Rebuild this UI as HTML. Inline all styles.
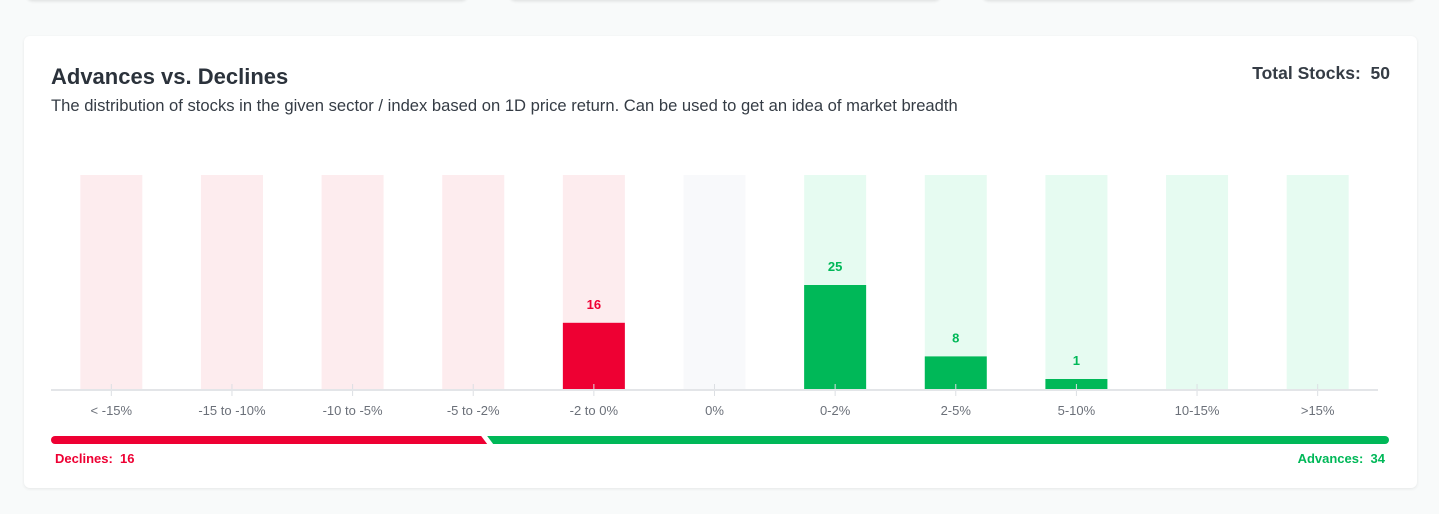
<!DOCTYPE html>
<html><head><meta charset="utf-8"><style>
body{margin:0;width:1439px;height:514px;background:#f8fafa;font-family:"Liberation Sans",sans-serif;overflow:hidden;position:relative}
.top{position:absolute;top:-10px;height:10px;background:#fff;border-radius:6px;box-shadow:0 1px 3px rgba(0,0,0,.12)}
.card{position:absolute;left:24px;top:36px;width:1393px;height:452px;background:#fff;border-radius:6px;box-shadow:0 1px 3px rgba(0,0,0,.08)}
h1{position:absolute;left:27px;top:28px;margin:0;font-size:22px;font-weight:bold;color:#2b323b}
.sub{position:absolute;left:27px;top:60px;font-size:16.6px;color:#353c45;white-space:nowrap}
.tot{position:absolute;right:27px;top:27px;font-size:17.5px;font-weight:bold;color:#353c45}
svg{position:absolute;left:0;top:0}
</style></head><body>
<div class="top" style="left:27px;width:440px"></div>
<div class="top" style="left:510px;width:430px"></div>
<div class="top" style="left:983px;width:432px"></div>
<div class="card">
<h1>Advances vs. Declines</h1>
<div class="sub">The distribution of stocks in the given sector / index based on 1D price return. Can be used to get an idea of market breadth</div>
<div class="tot">Total Stocks:&nbsp; 50</div>
</div>
<svg id="chart" width="1439" height="514"></svg>
<script>
const categories=["< -15%","-15 to -10%","-10 to -5%","-5 to -2%","-2 to 0%","0%","0-2%","2-5%","5-10%","10-15%",">15%"];
const values=[0,0,0,0,16,0,25,8,1,0,0];
const declines=16, advances=34, total=50;
(function(){
const NS="http://www.w3.org/2000/svg",svg=document.getElementById("chart");
function mk(t,a,txt){const e=document.createElementNS(NS,t);for(const k in a)e.setAttribute(k,a[k]);if(txt!=null)e.textContent=txt;svg.appendChild(e);return e;}
const x0=51,x1=1378,base=390,plotTop=175,bw=62;
const step=(x1-x0)/categories.length;
const xc=i=>x0+step*(i+0.5);
const yh=v=>v===0?0:Math.max(11,v*4.2);
categories.forEach((c,i)=>{
  const kind=i<5?"neg":(i===5?"zero":"pos");
  const bg=kind==="neg"?"#fdecee":kind==="zero"?"#f8f9fb":"#e6fbf1";
  const fg=kind==="neg"?"#ee0033":"#00b858";
  const b=mk("rect",{x:xc(i)-bw/2,y:plotTop,width:bw,height:base-plotTop,fill:bg});
  
  
  if(values[i]>0){
    const h=yh(values[i]);
    const r=mk("rect",{x:xc(i)-bw/2,y:base-h,width:bw,height:h,fill:fg});
    
    
    const t=mk("text",{x:xc(i),y:base-h-14,"text-anchor":"middle","font-size":13,"font-weight":"bold",fill:fg},values[i]);
    
    
  }
  const tk=mk("line",{x1:xc(i),x2:xc(i),y1:base-6,y2:base+6,stroke:"#dcdfe3"});
  
  
  const l=mk("text",{x:xc(i),y:415,"text-anchor":"middle","font-size":13,fill:"#6b7079"},c);
  
  
});
const ax=mk("line",{x1:x0,x2:x1,y1:base,y2:base,stroke:"#e3e5e8","stroke-width":2});


const bx0=51,bx1=1389,by=436,bh=8;
const split=bx0+(bx1-bx0)*declines/total;
const red=mk("path",{d:`M${bx0+4} ${by} L${split+2} ${by} L${split+8} ${by+bh} L${bx0+4} ${by+bh} A4 4 0 0 1 ${bx0+4} ${by} Z`,fill:"#ee0033"});


const grn=mk("path",{d:`M${split+8} ${by} L${bx1-4} ${by} A4 4 0 0 1 ${bx1-4} ${by+bh} L${split+14} ${by+bh} Z`,fill:"#00b858"});


const dl=mk("text",{x:55,y:463,"font-size":13,"font-weight":"bold",fill:"#ee0033"},"Declines:\u00a0 "+declines);


const al=mk("text",{x:1385,y:463,"text-anchor":"end","font-size":13,"font-weight":"bold",fill:"#00b858"},"Advances:\u00a0 "+advances);


})();
</script>
</body></html>
